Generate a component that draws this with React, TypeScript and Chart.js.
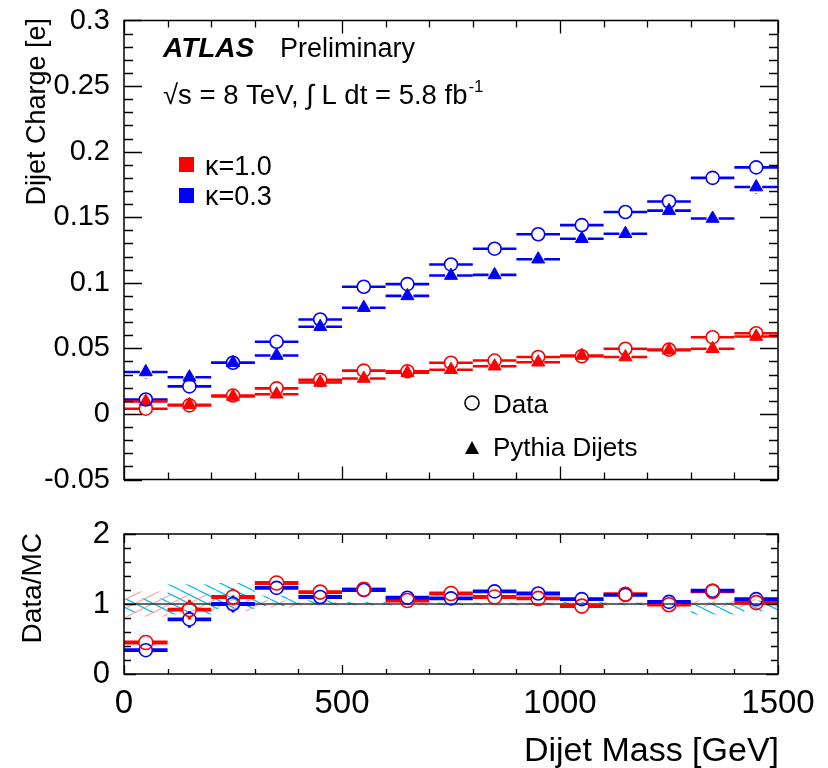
import React, { useEffect, useRef } from "react";
import { Chart, registerables } from "chart.js";

Chart.register(...registerables);

const FONT = "'Liberation Sans', Arial, Helvetica, sans-serif";
const RED = "#ff0000";
const BLUE = "#0000ff";

// ---- data ----
const binCenters = [50, 150, 250, 350, 450, 550, 650, 750, 850, 950, 1050, 1150, 1250, 1350, 1450];
const binHalfWidth = 50;

const dataK10 = [0.004, 0.0065, 0.014, 0.0195, 0.026, 0.033, 0.0325, 0.039, 0.0407, 0.0434, 0.044, 0.0497, 0.049, 0.0585, 0.0615];
const mcK10 = [0.0095, 0.007, 0.0133, 0.015, 0.024, 0.027, 0.0314, 0.0337, 0.0364, 0.0394, 0.0445, 0.0434, 0.0485, 0.0497, 0.059];
const dataK03 = [0.011, 0.021, 0.039, 0.055, 0.072, 0.097, 0.099, 0.114, 0.126, 0.137, 0.144, 0.154, 0.162, 0.180, 0.188];
const mcK03 = [0.032, 0.028, 0.039, 0.0445, 0.0665, 0.081, 0.090, 0.1055, 0.106, 0.118, 0.1336, 0.1374, 0.155, 0.149, 0.173];

const errDataK10 = [0.002, 0.002, 0.002, 0.002, 0.002, 0.002, 0.002, 0.002, 0.002, 0.002, 0.002, 0.002, 0.002, 0.002, 0.002];
const errMcK10 = [0.002, 0.002, 0.002, 0.002, 0.002, 0.002, 0.002, 0.002, 0.002, 0.002, 0.002, 0.002, 0.002, 0.002, 0.002];
const errDataK03 = [0.003, 0.003, 0.003, 0.003, 0.003, 0.003, 0.003, 0.003, 0.003, 0.003, 0.003, 0.003, 0.003, 0.003, 0.003];
const errMcK03 = [0.005, 0.004, 0.003, 0.003, 0.003, 0.003, 0.003, 0.003, 0.003, 0.003, 0.003, 0.003, 0.003, 0.004, 0.005];

const ratioK10 = [0.45, 0.92, 1.10, 1.30, 1.17, 1.21, 1.05, 1.15, 1.10, 1.08, 0.97, 1.14, 0.99, 1.18, 1.02];
const ratioK03 = [0.34, 0.78, 1.00, 1.23, 1.10, 1.20, 1.09, 1.08, 1.18, 1.15, 1.07, 1.13, 1.03, 1.19, 1.07];
const ratioErrK10 = [0.06, 0.14, 0.12, 0.06, 0.04, 0.03, 0.03, 0.03, 0.03, 0.03, 0.03, 0.03, 0.03, 0.04, 0.04];
const ratioErrK03 = [0.05, 0.12, 0.12, 0.07, 0.04, 0.03, 0.03, 0.03, 0.03, 0.03, 0.03, 0.03, 0.03, 0.04, 0.04];

const bandK10Lo = [0.82, 0.88, 0.9, 0.95, 0.98, 0.98, 0.98, 0.98, 0.98, 0.98, 0.98, 0.98, 0.98, 0.95, 0.93];
const bandK10Hi = [1.18, 1.15, 1.15, 1.05, 1.03, 1.02, 1.02, 1.02, 1.02, 1.02, 1.02, 1.03, 1.02, 1.05, 1.07];
const bandK03Lo = [0.88, 0.85, 0.93, 0.97, 0.98, 0.98, 0.98, 0.98, 0.98, 0.98, 0.97, 0.98, 0.98, 0.85, 0.9];
const bandK03Hi = [1.08, 1.28, 1.3, 1.12, 1.05, 1.03, 1.02, 1.02, 1.02, 1.02, 1.03, 1.02, 1.02, 1.02, 1.05];

const topYTicks = [-0.05, 0, 0.05, 0.1, 0.15, 0.2, 0.25, 0.3];
const topYTickLabels = ["-0.05", "0", "0.05", "0.1", "0.15", "0.2", "0.25", "0.3"];
const ratioYTicks = [0, 1, 2];
const ratioYTickLabels = ["0", "1", "2"];
const xTicks = [0, 500, 1000, 1500];
const xTickLabels = ["0", "500", "1000", "1500"];

// ---- helpers ----
function pts(values: number[]) {
  return binCenters.map((x, i) => ({ x, y: values[i] }));
}

function series(label: string, values: number[], errs: number[], color: string, style: string, filled: boolean, radius: number, barWidth: number, gap: number) {
  return {
    label,
    data: pts(values),
    showLine: false,
    pointStyle: style,
    pointRadius: radius,
    pointBorderWidth: filled ? 1 : 1.6,
    pointBorderColor: color,
    pointBackgroundColor: filled ? color : "rgba(0,0,0,0)",
    errY: errs,
    barColor: color,
    barWidth,
    gap,
  };
}

const binBarsPlugin = {
  id: "binBars",
  beforeDatasetsDraw(chart: any) {
    const { ctx, chartArea: a, scales } = chart;
    const xs = scales.x;
    const ys = scales.y;
    ctx.save();
    ctx.beginPath();
    ctx.rect(a.left, a.top, a.right - a.left, a.bottom - a.top);
    ctx.clip();
    chart.data.datasets.forEach((ds: any) => {
      if (!ds.errY) return;
      ctx.strokeStyle = ds.barColor;
      ds.data.forEach((p: any, j: number) => {
        const cx = xs.getPixelForValue(p.x);
        const cy = ys.getPixelForValue(p.y);
        const x0 = xs.getPixelForValue(p.x - binHalfWidth);
        const x1 = xs.getPixelForValue(p.x + binHalfWidth);
        const g = ds.gap;
        ctx.lineWidth = ds.barWidth;
        ctx.beginPath();
        ctx.moveTo(x0, cy);
        ctx.lineTo(cx - g, cy);
        ctx.moveTo(cx + g, cy);
        ctx.lineTo(x1, cy);
        ctx.stroke();
        const yt = ys.getPixelForValue(p.y + ds.errY[j]);
        const yb = ys.getPixelForValue(p.y - ds.errY[j]);
        if (cy - yt > g) {
          ctx.lineWidth = Math.max(1.5, ds.barWidth * 0.8);
          ctx.beginPath();
          ctx.moveTo(cx, yt);
          ctx.lineTo(cx, cy - g);
          ctx.moveTo(cx, cy + g);
          ctx.lineTo(cx, yb);
          ctx.stroke();
        }
      });
    });
    ctx.restore();
  },
};

function frameTicksPlugin(cfg: any) {
  return {
    id: "frameTicks",
    afterDraw(chart: any) {
      const { ctx, chartArea: a, scales } = chart;
      const xs = scales.x;
      const ys = scales.y;
      ctx.save();
      ctx.strokeStyle = "#000";
      ctx.lineWidth = 1.3;
      ctx.beginPath();
      const ny = Math.round((cfg.yMax - cfg.yMin) / cfg.yMinor);
      for (let k = 0; k <= ny; k++) {
        const v = cfg.yMin + k * cfg.yMinor;
        const r = v / cfg.yMajor;
        const major = Math.abs(r - Math.round(r)) < 1e-6;
        const len = major ? cfg.yMajorLen : cfg.yMinorLen;
        const py = Math.round(ys.getPixelForValue(v)) + 0.5;
        ctx.moveTo(a.left, py);
        ctx.lineTo(a.left + len, py);
        ctx.moveTo(a.right, py);
        ctx.lineTo(a.right - len, py);
      }
      const nx = Math.round((cfg.xMax - cfg.xMin) / cfg.xMinor);
      for (let k = 0; k <= nx; k++) {
        const v = cfg.xMin + k * cfg.xMinor;
        const r = v / cfg.xMajor;
        const major = Math.abs(r - Math.round(r)) < 1e-6;
        const len = major ? cfg.xMajorLen : cfg.xMinorLen;
        const px = Math.round(xs.getPixelForValue(v)) + 0.5;
        ctx.moveTo(px, a.bottom);
        ctx.lineTo(px, a.bottom - len);
        ctx.moveTo(px, a.top);
        ctx.lineTo(px, a.top + len);
      }
      ctx.stroke();
      ctx.lineWidth = 1.5;
      ctx.strokeRect(a.left, a.top, a.right - a.left, a.bottom - a.top);
      ctx.restore();
    },
  };
}

const topTextPlugin = {
  id: "topText",
  afterDraw(chart: any) {
    const { ctx } = chart;
    ctx.save();
    ctx.fillStyle = "#000";
    ctx.textBaseline = "alphabetic";
    ctx.textAlign = "left";
    ctx.font = `italic bold 28px ${FONT}`;
    ctx.fillText("ATLAS", 163, 57);
    ctx.font = `27px ${FONT}`;
    ctx.fillText("Preliminary", 280, 57);
    ctx.font = `27.5px ${FONT}`;
    const main = "\u221As = 8 TeV, \u222B L dt = 5.8 fb";
    ctx.fillText(main, 163, 104);
    const w = ctx.measureText(main).width;
    ctx.font = `17px ${FONT}`;
    ctx.fillText("-1", 163 + w + 1, 92);

    // kappa legend
    ctx.fillStyle = RED;
    ctx.fillRect(179, 157, 15, 15);
    ctx.fillStyle = BLUE;
    ctx.fillRect(179, 188, 15, 15);
    ctx.fillStyle = "#000";
    ctx.font = `27px ${FONT}`;
    ctx.fillText("\u03BA=1.0", 205, 175);
    ctx.fillText("\u03BA=0.3", 205, 205);

    // marker legend
    ctx.strokeStyle = "#000";
    ctx.lineWidth = 1.6;
    ctx.beginPath();
    ctx.arc(472, 403, 7, 0, Math.PI * 2);
    ctx.stroke();
    ctx.beginPath();
    ctx.moveTo(472, 441);
    ctx.lineTo(479, 454);
    ctx.lineTo(465, 454);
    ctx.closePath();
    ctx.fill();
    ctx.font = `26px ${FONT}`;
    ctx.fillText("Data", 493, 413);
    ctx.fillText("Pythia Dijets", 493, 456);

    // y title
    ctx.save();
    ctx.translate(45, 18);
    ctx.rotate(-Math.PI / 2);
    ctx.textAlign = "right";
    ctx.font = `27px ${FONT}`;
    ctx.fillText("Dijet Charge [e]", 0, 0);
    ctx.restore();
    ctx.restore();
  },
};

function hatchPattern(ctx: CanvasRenderingContext2D, color: string, forward: boolean) {
  const c = document.createElement("canvas");
  c.width = 18;
  c.height = 9;
  const g = c.getContext("2d") as CanvasRenderingContext2D;
  g.strokeStyle = color;
  g.lineWidth = 1.2;
  g.beginPath();
  if (forward) {
    g.moveTo(0, 9);
    g.lineTo(18, 0);
  } else {
    g.moveTo(0, 0);
    g.lineTo(18, 9);
  }
  g.stroke();
  return ctx.createPattern(c, "repeat");
}

const bandsPlugin = {
  id: "bands",
  beforeDatasetsDraw(chart: any) {
    const { ctx, chartArea: a, scales } = chart;
    const xs = scales.x;
    const ys = scales.y;
    ctx.save();
    ctx.beginPath();
    ctx.rect(a.left, a.top, a.right - a.left, a.bottom - a.top);
    ctx.clip();
    const pink = hatchPattern(ctx, "rgba(255,160,160,0.9)", true);
    const cyan = hatchPattern(ctx, "rgba(0,190,235,1)", false);
    binCenters.forEach((x, i) => {
      const x0 = xs.getPixelForValue(x - binHalfWidth);
      const x1 = xs.getPixelForValue(x + binHalfWidth);
      if (pink) {
        ctx.fillStyle = pink;
        const yt = ys.getPixelForValue(bandK10Hi[i]);
        const yb = ys.getPixelForValue(bandK10Lo[i]);
        ctx.fillRect(x0, yt, x1 - x0, yb - yt);
      }
      if (cyan) {
        ctx.fillStyle = cyan;
        const yt = ys.getPixelForValue(bandK03Hi[i]);
        const yb = ys.getPixelForValue(bandK03Lo[i]);
        ctx.fillRect(x0, yt, x1 - x0, yb - yt);
      }
    });
    // reference line at 1
    const y1 = ys.getPixelForValue(1);
    ctx.strokeStyle = "#333";
    ctx.lineWidth = 1.6;
    ctx.beginPath();
    ctx.moveTo(a.left, y1);
    ctx.lineTo(a.right, y1);
    ctx.stroke();
    ctx.restore();
  },
};

const ratioTextPlugin = {
  id: "ratioText",
  afterDraw(chart: any) {
    const { ctx } = chart;
    ctx.save();
    ctx.fillStyle = "#000";
    ctx.textBaseline = "alphabetic";
    ctx.font = `34px ${FONT}`;
    ctx.textAlign = "right";
    ctx.fillText("Dijet Mass [GeV]", 779, 261);
    ctx.save();
    ctx.translate(41, 33);
    ctx.rotate(-Math.PI / 2);
    ctx.textAlign = "right";
    ctx.font = `28px ${FONT}`;
    ctx.fillText("Data/MC", 0, 0);
    ctx.restore();
    ctx.restore();
  },
};

export default function App() {
  const topRef = useRef<HTMLCanvasElement>(null);
  const botRef = useRef<HTMLCanvasElement>(null);

  useEffect(() => {
    if (!topRef.current || !botRef.current) return;

    const top = new Chart(topRef.current, {
      type: "scatter",
      data: {
        datasets: [
          series("MC \u03BA=0.3", mcK03, errMcK03, BLUE, "triangle", true, 7.5, 2.6, 6),
          series("Data \u03BA=0.3", dataK03, errDataK03, BLUE, "circle", false, 6.5, 2.6, 6.5),
          series("MC \u03BA=1.0", mcK10, errMcK10, RED, "triangle", true, 7.5, 2.6, 6),
          series("Data \u03BA=1.0", dataK10, errDataK10, RED, "circle", false, 6.5, 2.6, 6.5),
        ] as any,
      },
      options: {
        animation: false,
        responsive: false,
        maintainAspectRatio: false,
        layout: { padding: { left: 0, right: 50, top: 17, bottom: 0 } },
        plugins: { legend: { display: false }, tooltip: { enabled: false } },
        scales: {
          x: {
            type: "linear",
            min: 0,
            max: 1500,
            grid: { display: false },
            border: { display: false },
            ticks: { display: false },
            afterFit: (s: any) => {
              s.height = 19;
            },
          },
          y: {
            type: "linear",
            min: -0.05,
            max: 0.3,
            grid: { display: false },
            border: { display: false },
            afterBuildTicks: (s: any) => {
              s.ticks = topYTicks.map((v) => ({ value: v }));
            },
            ticks: {
              color: "#000",
              padding: 6,
              font: { family: FONT, size: 29, lineHeight: 1 },
              callback: (_v: any, i: number) => topYTickLabels[i],
            },
            afterFit: (s: any) => {
              s.width = 124;
            },
          },
        },
      } as any,
      plugins: [
        binBarsPlugin,
        frameTicksPlugin({
          yMin: -0.05, yMax: 0.3, yMinor: 0.01, yMajor: 0.05, yMajorLen: 18, yMinorLen: 9,
          xMin: 0, xMax: 1500, xMinor: 100, xMajor: 500, xMajorLen: 13, xMinorLen: 7,
        }),
        topTextPlugin,
      ] as any,
    });

    const bot = new Chart(botRef.current, {
      type: "scatter",
      data: {
        datasets: [
          series("Ratio \u03BA=1.0", ratioK10, ratioErrK10, RED, "circle", false, 7, 3.8, 7),
          series("Ratio \u03BA=0.3", ratioK03, ratioErrK03, BLUE, "circle", false, 6.5, 3.8, 6.5),
        ] as any,
      },
      options: {
        animation: false,
        responsive: false,
        maintainAspectRatio: false,
        layout: { padding: { left: 0, right: 50, top: 34, bottom: 0 } },
        plugins: { legend: { display: false }, tooltip: { enabled: false } },
        scales: {
          x: {
            type: "linear",
            min: 0,
            max: 1500,
            grid: { display: false },
            border: { display: false },
            afterBuildTicks: (s: any) => {
              s.ticks = xTicks.map((v) => ({ value: v }));
            },
            ticks: {
              color: "#000",
              padding: 4,
              maxRotation: 0,
              autoSkip: false,
              font: { family: FONT, size: 33, lineHeight: 1.1 },
              callback: (_v: any, i: number) => xTickLabels[i],
            },
            afterFit: (s: any) => {
              s.height = 94;
            },
          },
          y: {
            type: "linear",
            min: 0,
            max: 2,
            grid: { display: false },
            border: { display: false },
            afterBuildTicks: (s: any) => {
              s.ticks = ratioYTicks.map((v) => ({ value: v }));
            },
            ticks: {
              color: "#000",
              padding: 6,
              font: { family: FONT, size: 31, lineHeight: 1 },
              callback: (_v: any, i: number) => ratioYTickLabels[i],
            },
            afterFit: (s: any) => {
              s.width = 124;
            },
          },
        },
      } as any,
      plugins: [
        bandsPlugin,
        binBarsPlugin,
        frameTicksPlugin({
          yMin: 0, yMax: 2, yMinor: 0.2, yMajor: 1, yMajorLen: 12, yMinorLen: 7,
          xMin: 0, xMax: 1500, xMinor: 100, xMajor: 500, xMajorLen: 9, xMinorLen: 5,
        }),
        ratioTextPlugin,
      ] as any,
    });

    return () => {
      top.destroy();
      bot.destroy();
    };
  }, []);

  return (
    <div style={{ position: "absolute", left: 0, top: 0, width: 828, height: 768, background: "#fff" }}>
      <canvas ref={topRef} width={828} height={500} style={{ position: "absolute", left: 0, top: 0, display: "block" }} />
      <canvas ref={botRef} width={828} height={268} style={{ position: "absolute", left: 0, top: 500, display: "block" }} />
    </div>
  );
}
